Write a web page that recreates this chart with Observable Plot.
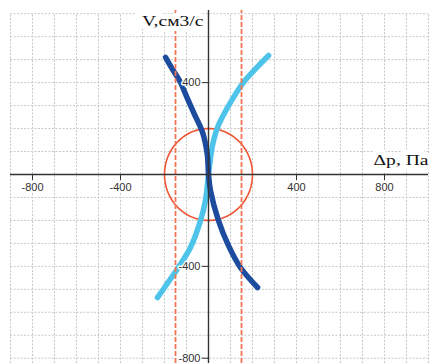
<!DOCTYPE html>
<html>
<head>
<meta charset="utf-8">
<script src="https://cdn.jsdelivr.net/npm/d3@7"></script>
<script src="https://cdn.jsdelivr.net/npm/@observablehq/plot@0.6"></script>
<style>
  html, body { margin: 0; padding: 0; background: #fff; }
</style>
</head>
<body>
<div id="chart"></div>
<script>
// Flow rate V (cm³/s) versus pressure drop Δp (Pa), two branches
const darkV  = [510, 460, 401, 340, 270, 183, 83, 0, -70, -200, -310, -405, -492];
const darkDp = [-195, -165, -127, -100, -68, -27, -5, 0, 9, 45, 91, 145, 223];

const lightV  = [-536, -470, -410, -318, -200, -113, 0, 39, 126, 205, 314, 396, 460, 518];
const lightDp = [-232, -184, -141, -82, -36, -14, 0, 5, 18, 41, 100, 155, 214, 273];

// Pressure limits (dashed) and the circular zone radius
const limitDp = [-150, 150];
const circleR = 200;

// Axis ticks and labels
const xTicks = [-800, -400, 400, 800];
const yTicks = [400, -400, -800];
const xTitle = "Δp, Па";
const yTitle = "V,см3/с";

const W = 429, H = 363;
const mt = 10, mr = 1, mb = 0, ml = 10;
const xDomain = [-900, 1000];
const yDomain = [-823, 714];
const gridX = d3.range(-900, 1001, 100);
const gridY = d3.range(-800, 701, 100);

const xPix = d3.scaleLinear(xDomain, [ml, W - mr]);
const yPix = d3.scaleLinear(yDomain, [H - mb, mt]);

const dark = darkV.map((v, i) => ({v, dp: darkDp[i]}));
const light = lightV.map((v, i) => ({v, dp: lightDp[i]}));
const circle = d3.range(0, 361, 3).map(a => ({
  dp: circleR * Math.cos(a * Math.PI / 180),
  v: circleR * Math.sin(a * Math.PI / 180)
}));

const titleFont = {fontFamily: "Liberation Serif, Times New Roman, serif", fontSize: 14.5, fill: "#111",
  stroke: "white", strokeWidth: 10};

const chart = Plot.plot({
  width: W, height: H,
  marginTop: mt, marginRight: mr, marginBottom: mb, marginLeft: ml,
  style: {fontFamily: "Liberation Sans, Arial, sans-serif", fontSize: "11px", background: "#fff"},
  x: {domain: xDomain, axis: null},
  y: {domain: yDomain, axis: null},
  marks: [
    // dotted grid
    Plot.ruleX(gridX, {x: d => d, y1: yDomain[0], y2: 700, stroke: "#c8c8c8", strokeWidth: 1, strokeDasharray: "2,1.5"}),
    Plot.ruleY(gridY, {y: d => d, x1: -900, x2: 1000, stroke: "#c8c8c8", strokeWidth: 1, strokeDasharray: "2,1.5"}),
    // operating zone circle
    Plot.line(circle, {x: "dp", y: "v", stroke: "#ef5434", strokeWidth: 1.6}),
    // characteristic branches
    Plot.line(light, {x: "dp", y: "v", curve: "catmull-rom", stroke: "#4ec4ea", strokeWidth: 5.5, strokeLinecap: "round"}),
    Plot.line(dark, {x: "dp", y: "v", curve: "catmull-rom", stroke: "#1d4c9e", strokeWidth: 5.5, strokeLinecap: "round"}),
    // pressure limits
    Plot.ruleX(limitDp, {x: d => d, y1: yDomain[0], y2: yDomain[1], stroke: "#f47552", strokeWidth: 1.8, strokeDasharray: "5,2"}),
    // axis titles on white boxes
    Plot.text([yTitle], {x: 0, frameAnchor: "top", dx: -5, dy: 15, textAnchor: "end", lineAnchor: "bottom", ...titleFont}),
    Plot.text([xTitle], {y: 0, frameAnchor: "right", dx: 0, dy: -9, textAnchor: "end", lineAnchor: "bottom", ...titleFont}),
    // axis lines through the origin
    Plot.ruleY([0], {x1: xDomain[0], x2: xDomain[1], stroke: "#333", strokeWidth: 1.4}),
    Plot.ruleX([0], {y1: yDomain[0], y2: yDomain[1], stroke: "#333", strokeWidth: 1.4}),
    Plot.axisX({anchor: "bottom", ticks: xTicks, tickFormat: d => String(d), dy: yPix(0) - (H - mb),
      tickSize: 6, tickPadding: 3, stroke: "#333", fill: "#333", textStroke: "white", textStrokeWidth: 3, label: null}),
    Plot.axisY({anchor: "left", ticks: yTicks, tickFormat: d => String(d), dx: xPix(0) - ml,
      tickSize: 7, tickPadding: 1, stroke: "#333", fill: "#333", textStroke: "white", textStrokeWidth: 3, label: null})
  ]
});

// widen the serif titles horizontally
d3.select(chart).selectAll("text")
  .filter(function() { return this.textContent === xTitle || this.textContent === yTitle; })
  .attr("transform", function() {
    return (this.getAttribute("transform") || "") + " scale(1.35,1)";
  });

document.getElementById("chart").appendChild(chart);
</script>
</body>
</html>
